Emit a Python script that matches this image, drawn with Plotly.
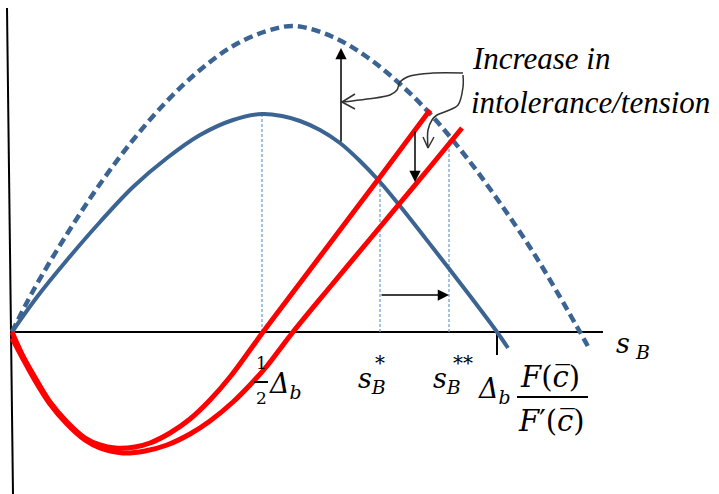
import plotly.graph_objects as go

# Strategic-interaction diagram: benefit curves (blue) and cost curves (red)
# plotted against s_B. Units are arbitrary; origin at the axis intersection.

# Benefit curve before the increase (solid blue)
benefit_x = [0, 25, 55, 88, 121, 155, 188, 221, 250, 270, 288, 308, 328, 348, 368, 388, 421, 455, 485, 496]
benefit_y = [0, 35, 72, 110, 145, 174, 197, 212, 218, 216, 211, 202, 189, 171, 150, 126, 84, 40, 0, -16]

# Benefit curve after the increase (dashed blue)
benefit_hi_x = [0, 21, 55, 88, 121, 155, 188, 221, 255, 283, 321, 355, 388, 421, 455, 488, 521, 548, 560, 568, 578]
benefit_hi_y = [0, 41, 98, 148, 192, 231, 262, 286, 301, 306, 295, 275, 248, 215, 174, 129, 80, 35, 14, 0, -18]

# Cost curve before the increase (red, upper)
cost_x = [0, 10, 21, 38, 55, 73, 88, 103, 123, 138, 158, 178, 198, 218, 238, 251, 288, 328, 368, 418]
cost_y = [0, -22, -42, -70, -90, -106, -113, -116, -115, -111, -101, -87, -68, -45, -18, 0, 49, 102, 155, 222]

# Cost curve after the increase (red, lower)
cost_lo_x = [0, 10, 21, 38, 55, 73, 88, 111, 133, 155, 178, 198, 221, 238, 255, 268, 281, 318, 358, 388, 418, 450]
cost_lo_y = [-6, -25, -45, -72, -92, -108, -116, -121, -119, -113, -102, -89, -70, -53, -34, -17, 0, 45, 93, 129, 165, 204]

# Key points on the s_B axis: 1/2 Δb, s_B*, s_B**, Δb F/F'
half_delta = 250
s_star = 368
s_star2 = 437
delta_frac = 485

# Guide curves from the caption to the shifted curves
guide_a_x = [451, 421, 398, 388, 385, 378, 355, 331]
guide_a_y = [259, 259, 256, 250, 242, 237, 233, 230]
guide_b_x = [451, 451, 446, 435, 425, 420, 416, 416]
guide_b_y = [257, 245, 227, 221, 217, 212, 202, 184]

BLUE = "#3B6493"
LIGHT_BLUE = "#6A9BD3"
RED = "#FF0000"
GUIDE = "#333333"
MATH_FONT = "DejaVu Serif"
TEXT_FONT = "Liberation Serif, serif"

fig = go.Figure()

def line(x, y, color, width, dash="solid", shape="spline"):
    fig.add_trace(go.Scatter(
        x=x, y=y, mode="lines",
        line=dict(color=color, width=width, dash=dash, shape=shape, smoothing=1.0),
        hoverinfo="skip", showlegend=False,
    ))

# Axes
line([-5, 1], [324, -162], "black", 2, shape="linear")
line([-2, 591], [0, 0], "black", 2, shape="linear")
line([delta_frac, delta_frac], [0, -23], "black", 2, shape="linear")

# Drop lines from the curve intersections
line([half_delta, half_delta], [0, max(benefit_y)], LIGHT_BLUE, 1.2, dash="3px,2px", shape="linear")
line([s_star, s_star], [0, 152], LIGHT_BLUE, 1.2, dash="3px,2px", shape="linear")
line([s_star2, s_star2], [0, 192], LIGHT_BLUE, 1.2, dash="3px,2px", shape="linear")

# Curves
line(benefit_hi_x, benefit_hi_y, BLUE, 4.5, dash="9px,5px")
line(benefit_x, benefit_y, BLUE, 4)
line(cost_x, cost_y, RED, 5)
line(cost_lo_x, cost_lo_y, RED, 5)

# Guide curves with open arrowheads
line(guide_a_x, guide_a_y, GUIDE, 1.5)
line([343, guide_a_x[-1] - 1, 343], [238, guide_a_y[-1], 223], GUIDE, 1.5, shape="linear")
line(guide_b_x, guide_b_y, GUIDE, 1.5)
line([411, guide_b_x[-1], 422], [195, guide_b_y[-1], 195], GUIDE, 1.5, shape="linear")

annotations = []

def arrow(x0, y0, x1, y1):
    annotations.append(dict(
        x=x1, y=y1, ax=x0, ay=y0, xref="x", yref="y", axref="x", ayref="y",
        text="", showarrow=True, arrowhead=2, arrowsize=1.5, arrowwidth=1.5,
        arrowcolor="black",
    ))

arrow(329, 189, 329, 284)      # benefit shifts up
arrow(403, 202, 403, 150)      # cost shifts down
arrow(s_star, 37, s_star2, 37) # equilibrium moves right

def label(x, y, text, size, family=MATH_FONT, xanchor="center", yanchor="middle"):
    annotations.append(dict(
        x=x, y=y, xref="x", yref="y", text=text, showarrow=False,
        font=dict(family=family, size=size, color="black"),
        xanchor=xanchor, yanchor=yanchor,
    ))

label(458, 274, "<i>Increase in</i>", 31, family=TEXT_FONT, xanchor="left")
label(457, 230, "<i>intolerance/tension</i>", 31, family=TEXT_FONT, xanchor="left")

label(602, -13, "<i>s</i><sub> <i>B</i></sub>", 27, xanchor="left")

label(249, -31, "1", 17)
label(249, -66, "2", 17)
label(255, -53, "<i>Δ</i><sub><i>b</i></sub>", 27, xanchor="left")

label(344, -48, "<i>s</i><sub><i>B</i></sub>", 27, xanchor="left")
label(368, -31, "*", 20)
label(419, -48, "<i>s</i><sub><i>B</i></sub>", 27, xanchor="left")
label(451, -31, "**", 20)

label(464, -58, "<i>Δ</i><sub><i>b</i></sub>", 27, xanchor="left")
label(538, -45, "<i>F</i>(<i>c̅</i>)", 29)
label(539, -89, "<i>F</i>′(<i>c̅</i>)", 29)

shapes = [
    dict(type="line", xref="x", yref="y", x0=242, x1=256, y0=-50, y1=-50,
         line=dict(color="black", width=2)),
    dict(type="line", xref="x", yref="y", x0=505, x1=576, y0=-65, y1=-65,
         line=dict(color="black", width=2)),
]

fig.update_layout(
    width=719, height=494, autosize=False,
    margin=dict(l=0, r=0, t=0, b=0),
    paper_bgcolor="white", plot_bgcolor="white",
    xaxis=dict(range=[-12, 707], visible=False, fixedrange=True),
    yaxis=dict(range=[-162, 332], visible=False, fixedrange=True),
    annotations=annotations, shapes=shapes,
)

fig.write_html("out.html")
